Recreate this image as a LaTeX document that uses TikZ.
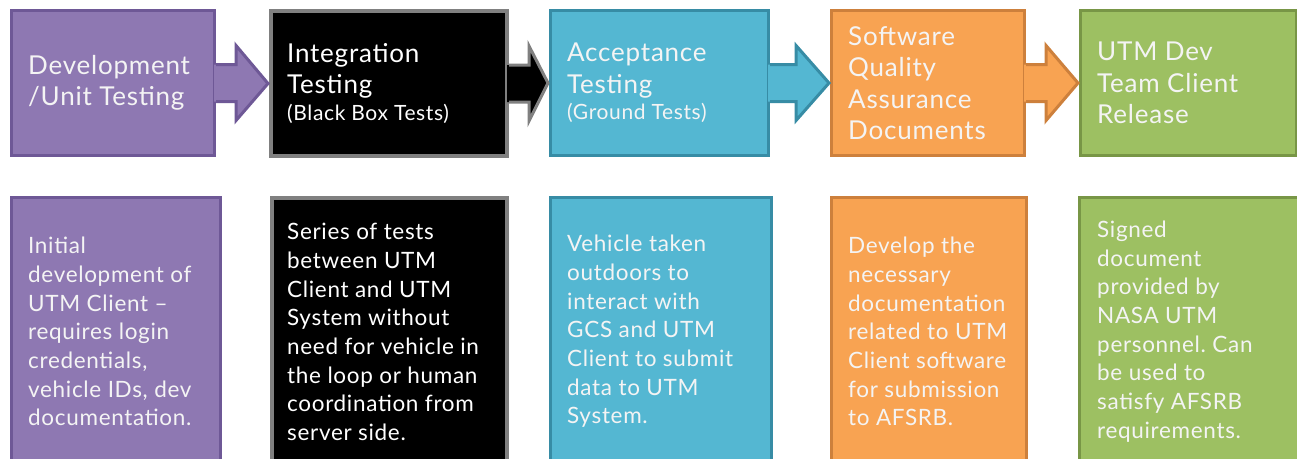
\documentclass[tikz,border=0pt]{standalone}
\usepackage{fontspec}
\setmainfont[LetterSpace=3]{Lato}
\frenchspacing
\usetikzlibrary{calc,positioning}
\definecolor{purplefill}{HTML}{8E78B2}
\definecolor{purpleline}{HTML}{6E5896}
\definecolor{cyanfill}{HTML}{54B7D2}
\definecolor{cyanline}{HTML}{378CA5}
\definecolor{orangefill}{HTML}{F8A352}
\definecolor{orangeline}{HTML}{CD803C}
\definecolor{greenfill}{HTML}{9DC062}
\definecolor{greenline}{HTML}{789646}
\definecolor{greyline}{HTML}{808080}
\definecolor{paletext}{HTML}{F4F4F4}
\def\stagearrow(#1)(#2)(#3)[#4][#5]{%
\path[fill=#4] ($(#1.east)+(-2,-18.5)$) -- ($(#1.east)+(#3,-18.5)$) -- ($(#1.east)+(#3,-37.5)$) -- ($(#2.west)+(-1,0)$) -- ($(#1.east)+(#3,37.5)$) -- ($(#1.east)+(#3,18.5)$) -- ($(#1.east)+(-2,18.5)$) -- cycle;
\draw[line width=3pt, draw=#5] ($(#1.east)+(0,-18.5)$) -- ($(#1.east)+(#3,-18.5)$) -- ($(#1.east)+(#3,-37.5)$) -- ($(#2.west)+(-1,0)$) -- ($(#1.east)+(#3,37.5)$) -- ($(#1.east)+(#3,18.5)$) -- ($(#1.east)+(0,18.5)$);}

\begin{document}
\begin{tikzpicture}[x=1pt, y=-1pt,
  stagebox/.style={draw, line width=3pt, anchor=north west, inner sep=0pt},
  titletext/.style={anchor=west, align=left, inner sep=0pt, text=paletext, font=\fontsize{26}{31.5}\selectfont},
  notetext/.style={anchor=west, align=left, inner sep=0pt, text=paletext, font=\fontsize{22.5}{28.7}\selectfont}]
			%%%%% START %%%%%
			
			\useasboundingbox (0,0) rectangle (1297,458);
			\fill[white] (0,0) rectangle (1297,458);
			\clip (0,0) rectangle (1297,458);
			
			% top row
			\node[stagebox, fill=purplefill, draw=purpleline, minimum width=203pt, minimum height=145pt] (dev) at (10,9) {};
			\node[stagebox, fill=black, draw=greyline, line width=4pt, minimum width=236pt, minimum height=145pt] (integ) at (269,9) {};
			\node[stagebox, fill=cyanfill, draw=cyanline, minimum width=218pt, minimum height=145pt] (accept) at (549,9) {};
			\node[stagebox, fill=orangefill, draw=orangeline, minimum width=193pt, minimum height=145pt] (sqa) at (830,9) {};
			\node[stagebox, fill=greenfill, draw=greenline, minimum width=216pt, minimum height=145pt] (release) at (1079,9) {};
			
			\stagearrow(dev)(integ)(20)[purplefill][purpleline]
			\stagearrow(integ)(accept)(20)[black][greyline]
			\stagearrow(accept)(sqa)(26)[cyanfill][cyanline]
			\stagearrow(sqa)(release)(20)[orangefill][orangeline]
			
			\node[titletext] (devtitle) at ([xshift=18pt]dev.west) {Development\\/Unit Testing};
			\node[titletext, text=white] (integtitle) at ([xshift=18pt]integ.west) {Integration\\Testing\\[-5pt]{\fontsize{21}{24}\selectfont (Black Box Tests)}};
			\node[titletext] (accepttitle) at ([xshift=18pt]accept.west) {Acceptance\\Testing\\[-5pt]{\fontsize{21}{24}\selectfont (Ground Tests)}};
			\node[titletext] (sqatitle) at ([xshift=18pt]sqa.west) {Software\\Quality\\Assurance\\Documents};
			\node[titletext] (releasetitle) at ([xshift=18pt]release.west) {UTM Dev\\Team Client\\Release};
			
			% bottom row
			\node[stagebox, fill=purplefill, draw=purpleline, minimum width=209pt, minimum height=268pt] (devnote) at (10,196) {};
			\node[stagebox, fill=black, draw=greyline, line width=4pt, minimum width=235pt, minimum height=268pt] (integnote) at (270,196) {};
			\node[stagebox, fill=cyanfill, draw=cyanline, minimum width=221pt, minimum height=268pt] (acceptnote) at (549,196) {};
			\node[stagebox, fill=orangefill, draw=orangeline, minimum width=195pt, minimum height=268pt] (sqanote) at (830,196) {};
			\node[stagebox, fill=greenfill, draw=greenline, minimum width=230pt, minimum height=268pt] (releasenote) at (1078,196) {};
			
			\node[notetext] (devtext) at ([xshift=18pt]devnote.west) {Initial\\development of\\UTM Client --\\requires login\\credentials,\\vehicle IDs, dev\\documentation.};
			\node[notetext, text=white] (integtext) at ([xshift=17pt]integnote.west) {Series of tests\\between UTM\\Client and UTM\\System without\\need for vehicle in\\the loop or human\\coordination from\\server side.};
			\node[notetext] (accepttext) at ([xshift=18pt]acceptnote.west) {Vehicle taken\\outdoors to\\interact with\\GCS and UTM\\Client to submit\\data to UTM\\System.};
			\node[notetext] (sqatext) at ([xshift=18pt]sqanote.west) {Develop the\\necessary\\documentation\\related to UTM\\Client software\\for submission\\to AFSRB.};
			\node[notetext] (releasetext) at ([xshift=19pt]releasenote.west) {Signed\\document\\provided by\\NASA UTM\\personnel. Can\\be used to\\satisfy AFSRB\\requirements.};
			
			%%%%% END %%%%%
\end{tikzpicture}
\end{document}
